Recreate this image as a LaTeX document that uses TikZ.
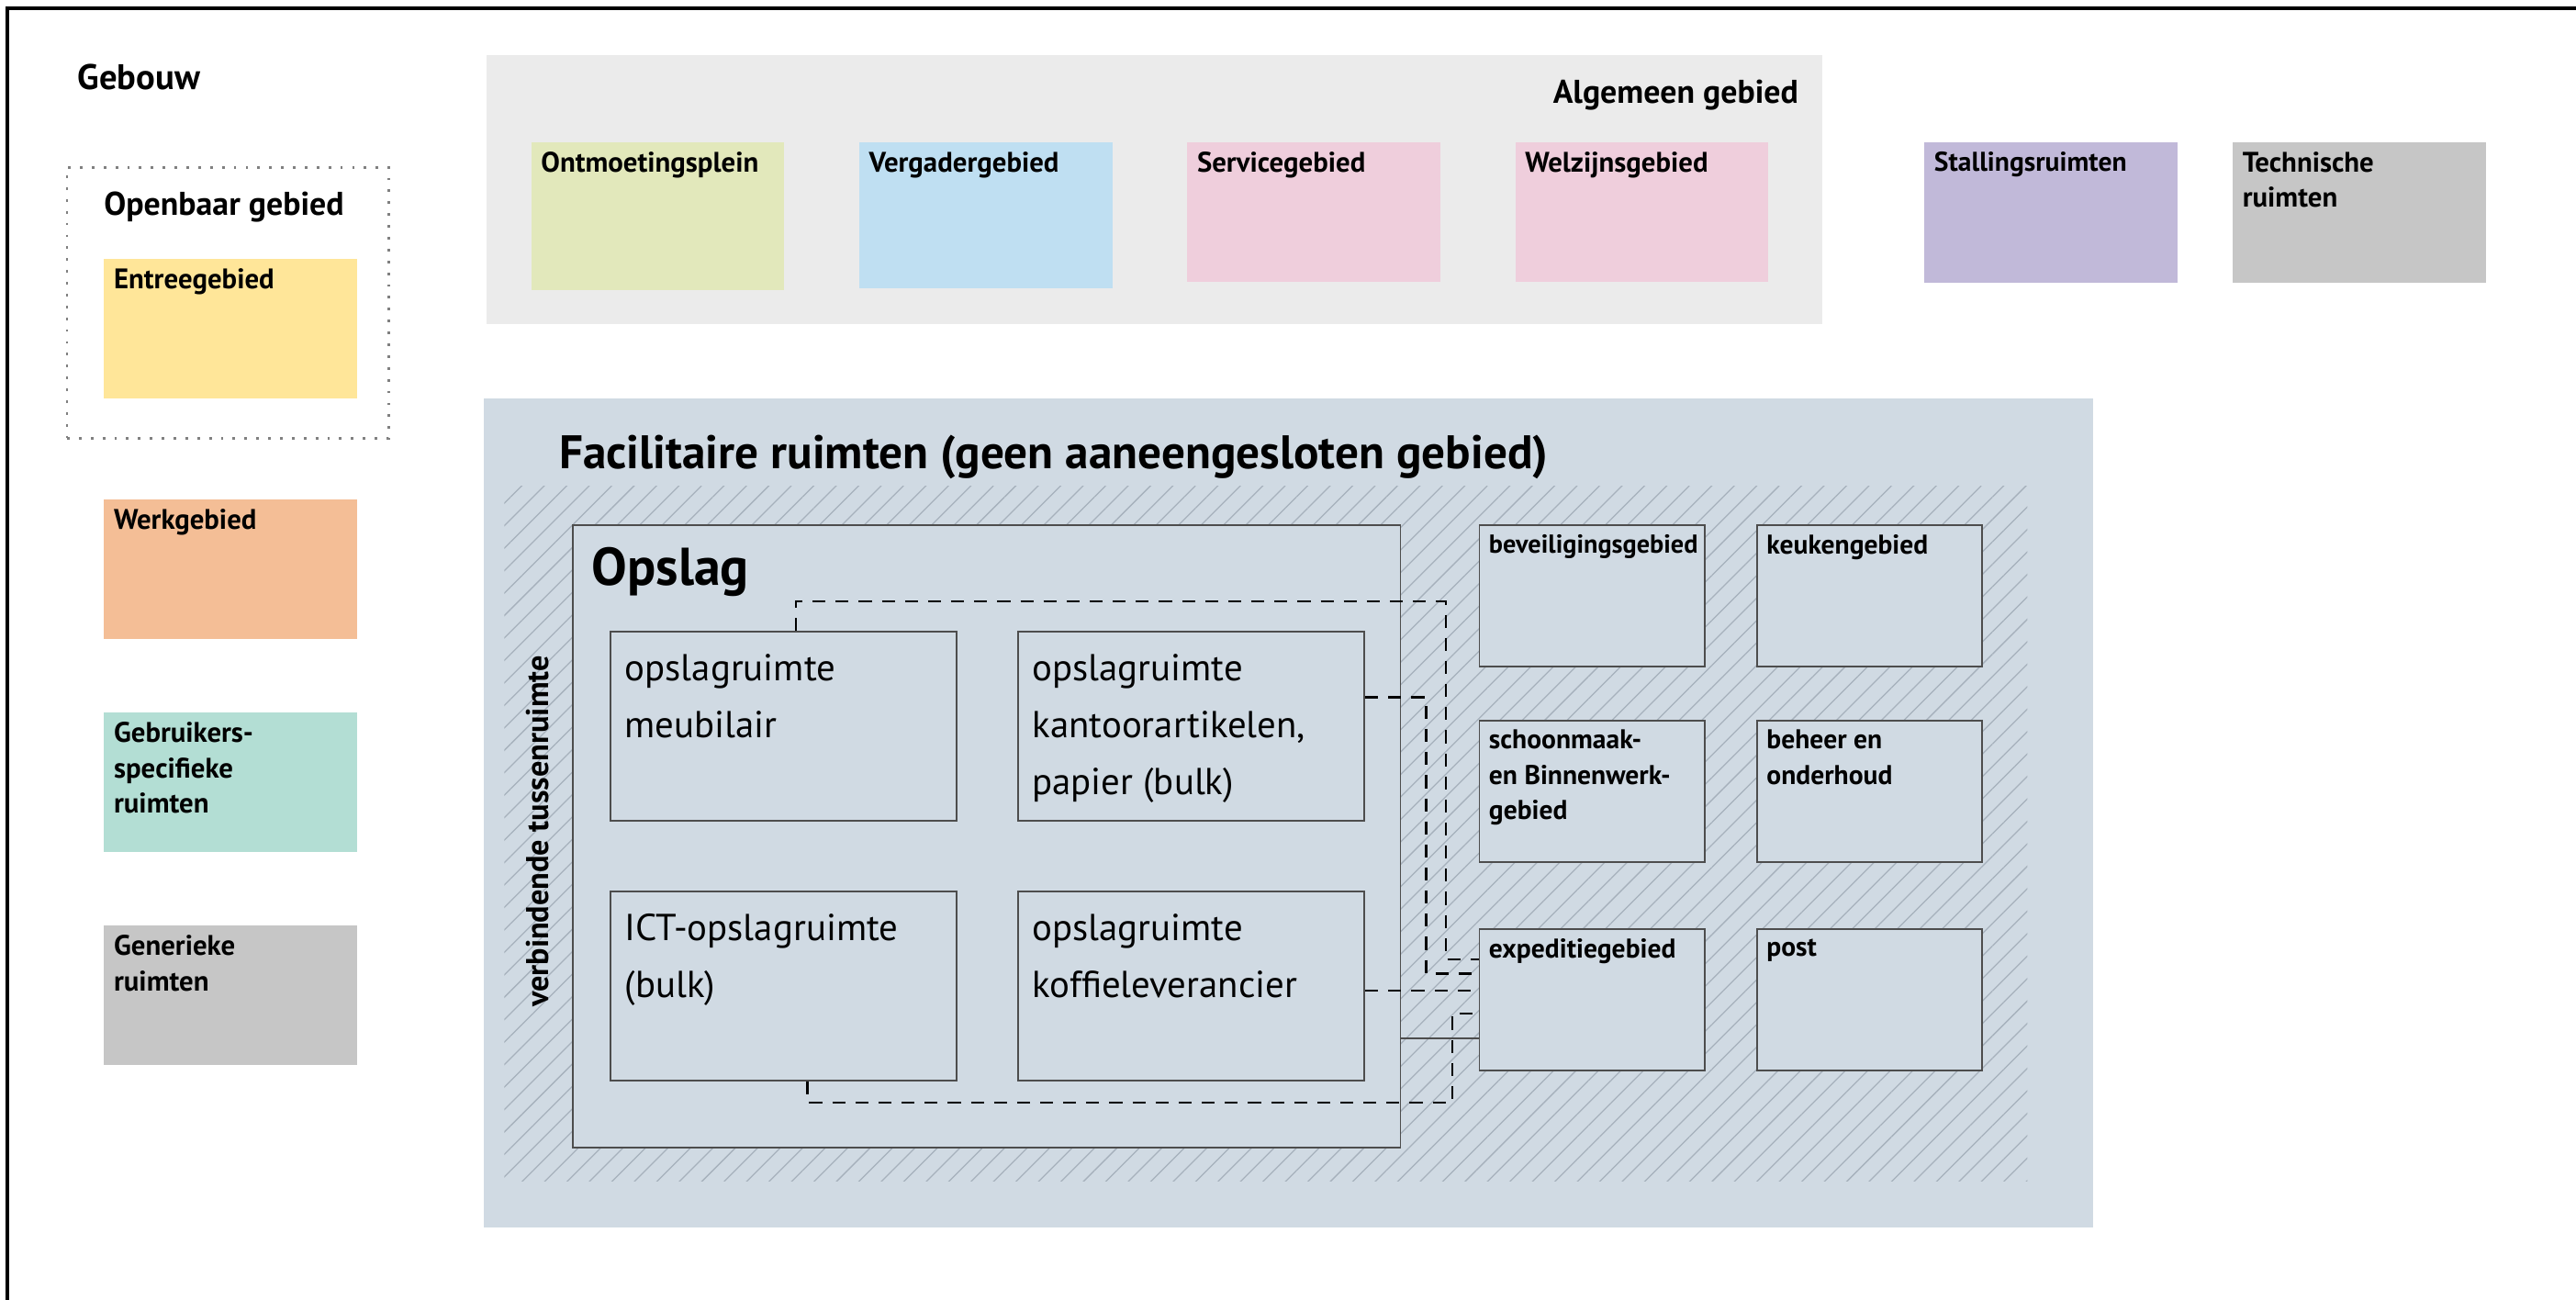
\documentclass[tikz,border=0pt]{standalone}
\usepackage{fontspec}
\setmainfont{PT Sans}
\usetikzlibrary{positioning,patterns.meta}
\definecolor{entree}{HTML}{FFE699}
\definecolor{werk}{HTML}{F4BE96}
\definecolor{gebr}{HTML}{B3DED4}
\definecolor{gener}{HTML}{C6C6C6}
\definecolor{algbg}{HTML}{EBEBEB}
\definecolor{ontm}{HTML}{E2E8BB}
\definecolor{verg}{HTML}{BFDFF2}
\definecolor{serv}{HTML}{EFCEDC}
\definecolor{stall}{HTML}{C1B9D9}
\definecolor{facbg}{HTML}{D0DAE3}
\definecolor{hatch}{HTML}{A6B1BC}
\definecolor{boxline}{HTML}{4D4D4D}

\begin{document}
\begin{tikzpicture}[x=0.02cm,y=-0.02cm,
    zone/.style={anchor=north west,inner sep=0,minimum width=3.08cm,minimum height=1.7cm},
    lbl/.style={anchor=north west,align=left,inner xsep=0.12cm,inner ysep=0.12cm,font=\fontsize{9.8}{12.2}\selectfont\bfseries},
    rlbl/.style={lbl,font=\fontsize{9.4}{12.2}\selectfont\bfseries},
    room/.style={draw=boxline,fill=facbg,line width=0.6pt,anchor=north west,inner sep=0,minimum width=2.74cm,minimum height=1.72cm},
    store/.style={room,minimum width=4.22cm,minimum height=2.3cm},
    stxt/.style={anchor=north west,align=left,inner xsep=0.18cm,inner ysep=0.28cm,font=\fontsize{13}{19.6}\selectfont},
    ttl/.style={inner sep=0,font=\fontsize{11.4}{13}\selectfont\bfseries},
    conn/.style={dash pattern=on 4.5pt off 3.5pt,line width=0.8pt}]
  \useasboundingbox (0,0) rectangle (1568,791);
  % building frame
  \draw[line width=1.2pt] (4.5,791) -- (4.5,5) -- (1568,5);
  \node[ttl,anchor=west,font=\fontsize{12.3}{14}\selectfont\bfseries] (gebouw) at (47,47) {Gebouw};

  % left column
  \node[draw=gray,dash pattern=on 0.9pt off 3.2pt,line width=0.9pt,anchor=north west,
        minimum width=3.92cm,minimum height=3.3cm] (openbaar) at (40,101) {};
  \node[ttl,anchor=west] (openbaarlbl) at (63,126) {Openbaar gebied};
  \node[zone,fill=entree,label={[lbl]north west:Entreegebied}] (entree) at (63,157) {};
  \node[zone,fill=werk,below=1.22cm of entree,label={[lbl]north west:Werkgebied}] (werk) {};
  \node[zone,fill=gebr,below=0.88cm of werk,label={[lbl]north west:{Gebruikers-\\specifieke\\ruimten}}] (gebr) {};
  \node[zone,fill=gener,below=0.88cm of gebr,label={[lbl]north west:{Generieke\\ruimten}}] (gener) {};

  % algemeen gebied
  \node[fill=algbg,anchor=north west,inner sep=0,minimum width=16.26cm,minimum height=3.28cm] (algemeen) at (296,33) {};
  \node[ttl,anchor=east] (algemeenlbl) at (1095,58) {Algemeen gebied};
  \node[zone,fill=ontm,minimum height=1.8cm,label={[lbl]north west:Ontmoetingsplein}] (ontm) at (323,86) {};
  \node[zone,fill=verg,minimum height=1.78cm,right=0.9cm of ontm.north east,anchor=north west,label={[lbl]north west:Vergadergebied}] (verg) {};
  \node[zone,fill=serv,right=0.9cm of verg.north east,anchor=north west,label={[lbl]north west:Servicegebied}] (serv) {};
  \node[zone,fill=serv,right=0.9cm of serv.north east,anchor=north west,label={[lbl]north west:Welzijnsgebied}] (welz) {};
  \node[zone,fill=stall,minimum height=1.72cm,label={[rlbl]north west:Stallingsruimten}] (stall) at (1171,86) {};
  \node[zone,fill=gener,minimum height=1.72cm,right=0.66cm of stall,label={[lbl]north west:{Technische\\ruimten}}] (techn) {};

  % facilitaire ruimten
  \node[fill=facbg,anchor=north west,inner sep=0,minimum width=19.6cm,minimum height=10.1cm] (fac) at (294,242) {};
  \node[ttl,anchor=west,font=\fontsize{16.3}{19}\selectfont\bfseries] (faclbl) at (340,278) {Facilitaire ruimten (geen aaneengesloten gebied)};
  \path[pattern={Lines[angle=45,distance=5.5pt,line width=0.4pt]},pattern color=hatch] (307,296) rectangle (1234,719);
  \node[room,minimum width=10.08cm,minimum height=7.58cm] (opslag) at (348,319) {};
  \node[ttl,anchor=west,font=\fontsize{18.4}{21}\selectfont\bfseries] (opslaglbl) at (360,348) {Opslag};
  \node[ttl,rotate=90,font=\fontsize{10.9}{12}\selectfont\bfseries] (tussen) at (327,506) {verbindende tussenruimte};

  \node[store,label={[stxt]north west:{opslagruimte\\meubilair}}] (meub) at (371,384) {};
  \node[store,label={[stxt]north west:{opslagruimte\\kantoorartikelen,\\papier (bulk)}}] (kant) at (619,384) {};
  \node[store,label={[stxt]north west:{ICT-opslagruimte\\(bulk)}}] (ict) at (371,542) {};
  \node[store,label={[stxt]north west:{opslagruimte\\koffieleverancier}}] (koff) at (619,542) {};

  \node[room,label={[rlbl,font=\fontsize{9}{12.2}\selectfont\bfseries]north west:beveiligingsgebied}] (bev) at (900,319) {};
  \node[room,label={[rlbl]north west:keukengebied}] (keuk) at (1069,319) {};
  \node[room,label={[rlbl]north west:{schoonmaak-\\en Binnenwerk-\\gebied}}] (schoon) at (900,438) {};
  \node[room,label={[rlbl]north west:{beheer en\\onderhoud}}] (beheer) at (1069,438) {};
  \node[room,label={[rlbl]north west:expeditiegebied}] (exp) at (900,565) {};
  \node[room,label={[rlbl]north west:post}] (post) at (1069,565) {};

  % connections to expeditie
  \draw[conn] ([xshift=.15cm]meub.north) -- ++(0,.36cm) -| ([yshift=.49cm,xshift=-.4cm]exp.west) -- ([yshift=.49cm]exp.west);
  \draw[conn] ([yshift=.35cm]kant.east) -| ([yshift=.32cm,xshift=-.64cm]exp.west) -- ([yshift=.32cm]exp.west);
  \coordinate (kofout) at ([yshift=.11cm]exp.west);
  \draw[conn] (kofout -| koff.east) -- (kofout);
  \draw[conn] ([xshift=.29cm]ict.south) -- ++(0,-.26cm) -| ([yshift=-.17cm,xshift=-.32cm]exp.west) -- ([yshift=-.17cm]exp.west);
  \coordinate (opsout) at ([yshift=-.47cm]exp.west);
  \draw[boxline,line width=0.6pt] (opsout -| opslag.east) -- (opsout);
\end{tikzpicture}
\end{document}
